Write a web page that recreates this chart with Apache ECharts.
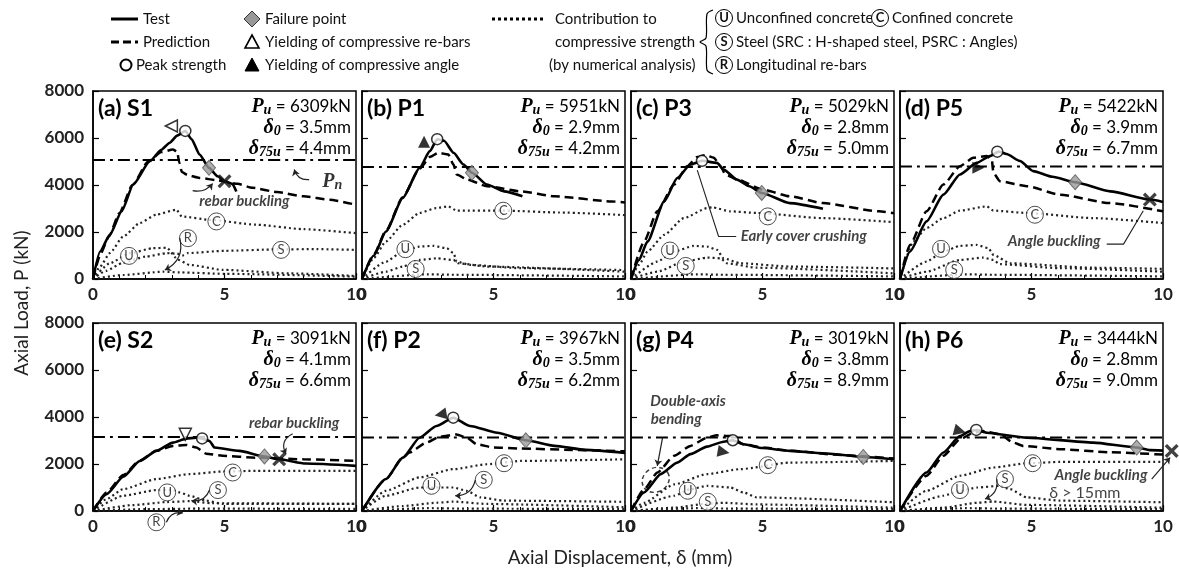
<!DOCTYPE html>
<html>
<head>
<meta charset="utf-8">
<script src="https://cdn.jsdelivr.net/npm/echarts@6/dist/echarts.min.js"></script>
<style>
  html, body { margin: 0; padding: 0; background: #fff; }
  #chart { width: 1179px; height: 575px; }
</style>
</head>
<body>
<div id="chart"></div>
<script>
// ---- data (x: axial displacement mm, y: axial load kN) ----
const panelNames = ['(a) S1', '(b) P1', '(c) P3', '(d) P5', '(e) S2', '(f) P2', '(g) P4', '(h) P6'];
const puValues = ['6309', '5951', '5029', '5422', '3091', '3967', '3019', '3444'];
const d0Values = ['3.5', '2.9', '2.8', '3.9', '4.1', '3.5', '3.8', '2.8'];
const d75Values = ['4.4', '4.2', '5.0', '6.7', '6.6', '6.2', '8.9', '9.0'];
const pnLoads = [5060, 4770, 4770, 4790, 3150, 3130, 3130, 3130];
const xTicks = [0, 5, 10];
const yTicks = [0, 2000, 4000, 6000, 8000];

const testCurves = [
  [[0,0],[0.27,1170],[0.64,1880],[1.09,2880],[1.53,4020],[2.16,5010],[2.6,5500],[2.92,5800],[3.2,6100],[3.51,6300],[3.75,5950],[4.05,5300],[4.41,4730],[4.74,4370],[5.0,4160],[5.3,4050],[5.45,3720]],
  [[0,0],[0.45,1000],[0.91,2020],[1.55,3450],[2.19,4730],[2.58,5440],[2.86,5950],[3.12,5880],[3.48,5370],[3.86,4870],[4.18,4520],[4.75,4020],[5.4,3730],[6.1,3520]],
  [[0,0],[0.3,800],[0.63,1600],[1.26,3300],[1.76,4300],[2.26,4870],[2.7,5030],[3.27,4940],[3.52,4660],[4.03,4230],[4.5,3950],[4.97,3660],[6.04,3230],[7.3,2990]],
  [[0,0],[0.38,1170],[1.01,2450],[1.65,3590],[2.28,4450],[2.91,4940],[3.42,5230],[3.75,5420],[4.05,5320],[4.56,5020],[5.07,4590],[5.8,4350],[6.66,4120],[8.0,3730],[9.5,3380],[10,3280]],
  [[0,0],[0.52,720],[1.15,1455],[1.78,2130],[2.41,2560],[3.04,2910],[3.55,3080],[3.93,3120],[4.15,3080],[4.43,2980],[4.62,2700],[5.57,2560],[6.52,2320],[7.08,2200],[8.09,2020],[10,1920]],
  [[0,0],[0.91,1360],[1.55,2270],[2.19,3120],[2.83,3620],[3.47,3970],[4.11,3620],[5.14,3330],[6.23,3010],[7.32,2770],[8.5,2600],[10,2470]],
  [[0,0],[0.5,790],[1.13,1570],[1.76,2060],[2.26,2420],[2.89,2740],[3.52,2950],[3.87,3010],[4.28,2840],[5.0,2680],[6.04,2560],[7.3,2460],[8.83,2300],[10,2200]],
  [[0,0],[1.01,1640],[1.65,2490],[2.28,3190],[2.66,3400],[2.9,3450],[3.3,3330],[4.82,3120],[7.35,2910],[9.0,2700],[9.5,2590],[10,2570]]
];

const predCurves = [
  [[0,0],[0.3,1100],[0.6,1800],[1.0,2800],[1.5,4000],[2.1,5000],[2.6,5400],[3.04,5510],[3.2,5420],[3.28,4950],[3.38,4550],[3.6,4420],[4.05,4300],[4.74,4200],[5.5,4050],[6.07,3880],[7,3700],[8,3520],[9,3370],[10,3160]],
  [[0,0],[0.45,1050],[0.91,2050],[1.55,3480],[2.19,4700],[2.6,5200],[2.9,5370],[3.28,5300],[3.48,4870],[3.6,4450],[4.0,4230],[4.75,3950],[6.03,3730],[7.32,3520],[9.5,3300],[10,3260]],
  [[0,0],[0.5,1600],[1.0,2880],[1.64,4020],[2.14,4800],[2.52,5190],[2.83,5270],[3.15,5160],[3.4,4800],[3.59,4450],[4.03,4230],[5.03,3800],[6.04,3520],[7.3,3230],[9.43,2880],[10,2800]],
  [[0,0],[0.38,1450],[1.01,2880],[1.65,4020],[2.28,4800],[2.79,5160],[3.3,5230],[3.49,5090],[3.55,4520],[3.8,4160],[4.82,3950],[6.08,3590],[7.98,3230],[10,2880]],
  [[0,0],[0.52,790],[1.15,1530],[1.78,2150],[2.41,2560],[3.04,2770],[3.55,2810],[3.93,2700],[4.3,2440],[4.93,2350],[6.2,2270],[8,2200],[10,2130]],
  [[0,0],[0.91,1360],[1.55,2270],[1.81,2490],[2.45,2910],[2.96,3160],[3.6,3260],[3.98,3120],[4.37,2840],[5.0,2700],[6.03,2660],[8,2600],[10,2540]],
  [[0,0],[0.5,930],[1.01,1640],[1.64,2350],[2.26,2770],[2.89,3120],[3.27,3220],[3.77,3190],[4.28,2840],[5.03,2700],[6.04,2560],[8,2380],[10,2230]],
  [[0,0],[1.01,1500],[1.65,2350],[2.28,3050],[2.79,3330],[3.17,3400],[3.8,3260],[4.31,2910],[4.69,2770],[6.08,2630],[8,2500],[10,2400]]
];

const confCurves = [
  [[0,0],[0.27,530],[0.64,1100],[1.15,1810],[1.78,2380],[2.41,2740],[3.17,2950],[3.38,2660],[4.43,2520],[6.2,2310],[8,2120],[10,1950]],
  [[0,0],[0.45,900],[0.91,1600],[1.55,2310],[2.19,2810],[2.83,3020],[3.28,3090],[3.6,2910],[5.4,2910],[7.5,2830],[10,2720]],
  [[0,0],[0.3,600],[0.63,1170],[1.26,1880],[2.01,2590],[2.9,3020],[3.1,3050],[3.77,2880],[4.78,2810],[7.3,2590],[10,2420]],
  [[0,0],[0.51,1600],[1.01,2170],[1.65,2590],[2.28,2910],[3.3,3090],[3.55,2910],[4.82,2810],[7.35,2590],[10,2380]],
  [[0,0],[0.5,500],[1.15,930],[2.41,1360],[3.67,1570],[4.93,1680],[6.2,1710],[10,1710]],
  [[0,0],[0.91,860],[2.19,1430],[3.47,1780],[4.75,1990],[6.03,2130],[10,2200]],
  [[0,0],[0.5,350],[1.64,1130],[2.89,1570],[4.15,1780],[6.04,2060],[10,2130]],
  [[0,0],[1.01,860],[2.28,1500],[3.55,1850],[4.82,2030],[6.08,2090],[10,2090]]
];

const unconfCurves = [
  [[0,0],[0.64,670],[1.4,1100],[2.28,1310],[2.8,1330],[3.23,820],[3.67,600],[4.93,390],[7.46,240],[10,130]],
  [[0,0],[0.91,740],[1.55,1170],[2.19,1380],[2.7,1410],[3.22,1310],[3.48,1100],[3.6,740],[4.1,600],[6.03,460],[10,380]],
  [[0,0],[1.0,740],[1.64,1170],[2.39,1410],[2.9,1380],[3.27,1240],[3.52,880],[4.15,670],[6.04,530],[10,450]],
  [[0,0],[1.01,740],[1.65,1170],[2.28,1410],[2.91,1450],[3.36,1310],[3.55,1030],[4.18,670],[7.35,480],[10,430]],
  [[0,0],[1.15,650],[2.41,890],[3.0,900],[3.3,790],[3.67,650],[4.3,440],[4.93,300],[10,300]],
  [[0,0],[0.91,650],[2.19,1000],[3.47,1000],[3.98,860],[4.5,580],[5.4,440],[10,390]],
  [[0,0],[1.64,650],[2.26,930],[2.89,1070],[3.77,1000],[4.28,790],[4.78,580],[10,370]],
  [[0,0],[1.65,650],[2.28,860],[2.94,1000],[3.8,1070],[4.18,930],[4.82,580],[6.08,440],[10,370]]
];

const steelCurves = [
  [[0,0],[0.5,350],[1.15,700],[2.0,950],[2.8,1100],[3.2,1080],[3.4,1000],[3.6,1100],[5,1200],[7,1260],[8.5,1270],[10,1240]],
  [[0,0],[0.91,310],[1.55,530],[2.19,810],[2.83,880],[3.48,810],[3.66,670],[4.75,530],[10,310]],
  [[0,0],[1.0,310],[2.01,740],[2.9,910],[3.4,880],[3.65,670],[4.78,480],[10,240]],
  [[0,0],[1.01,310],[2.28,810],[3.17,910],[3.55,810],[3.8,630],[6.08,460],[10,310]],
  [[0,0],[1.5,250],[2.8,380],[3.7,420],[4.5,330],[10,300]],
  [[0,0],[1.55,210],[2.83,350],[3.47,400],[4.75,300],[10,160]],
  [[0,0],[1.64,140],[2.89,310],[3.52,350],[4.78,280],[10,140]],
  [[0,0],[1.65,140],[2.94,350],[3.55,400],[4.82,260],[10,140]]
];

const rebarCurves = [
  [[0,0],[1.15,170],[2.66,310],[3.3,280],[5,220],[10,100]],
  [[0,0],[2.5,200],[3.5,180],[10,110]],
  [[0,0],[2.5,200],[3.5,180],[10,110]],
  [[0,0],[2.5,200],[3.5,180],[10,110]],
  [[0,0],[2,80],[4,100],[10,90]],
  [[0,0],[2.5,120],[4,100],[10,80]],
  [[0,0],[2.5,120],[4,100],[10,80]],
  [[0,0],[2.5,120],[4,100],[10,80]]
];

const peakPoints = [[3.51,6300],[2.86,5950],[2.7,5030],[3.7,5420],[4.15,3090],[3.47,3970],[3.87,3010],[2.9,3450]];
const failurePoints = [[4.41,4730],[4.18,4520],[4.97,3660],[6.66,4120],[6.52,2320],[6.23,3010],[8.83,2300],[9.0,2700]];
const yieldPoints = [[2.98,6510],[2.36,5840],null,[2.98,4730],[3.51,3264],[2.99,4110],[3.52,2514],[2.28,3404]];
const bucklingPoints = [[5.0,4160],null,null,[9.5,3380],[7.08,2200],null,null,[10.33,2557]];

// circled component tags and notes (annotations)
const circleLabels = [
  [[4.69,2450,'C'],[1.37,983,'U'],[3.61,1738,'R'],[7.15,1239,'S']],
  [[5.37,2906,'C'],[1.65,1268,'U'],[2.04,427,'S']],
  [[5.2,2664,'C'],[1.48,1211,'U'],[2.08,556,'S']],
  [[5.13,2735,'C'],[1.56,1282,'U'],[2.06,385,'S']],
  [[5.31,1638,'C'],[2.82,791,'U'],[4.75,890,'S'],[2.41,-480,'R']],
  [[5.4,2034,'C'],[2.64,1073,'U'],[4.63,1328,'S']],
  [[5.2,1949,'C'],[2.16,862,'U'],[2.92,395,'S']],
  [[5.04,2034,'C'],[2.28,890,'U'],[3.99,1356,'S']]
];
const noteTexts = [
  [[5.76,3300,'rebar buckling']],
  [],
  [[6.57,1808,'Early cover crushing']],
  [[5.86,1594,'Angle buckling']],
  [[7.65,3758,'rebar buckling']],
  [],
  [[2.17,4674,'Double-axis'],[1.72,3898,'bending']],
  [[7.64,1538,'Angle buckling']]
];
const plainNotes = [[], [], [], [], [], [], [], [[7.03,792,'δ > 15mm']]];
const pnTag = [9.1, 4150];
const bendingZone = [0.94, 1326];
const arrowPaths = [
  [{c: [[3.79,3760],[4.55,4060]], k: -0.3}, {c: [[8.22,4230],[7.65,4660]], k: 0.4}, {c: [[3.3,1740],[2.73,385]], k: 0.4}],
  [],
  [{c: [[4.0,1808],[3.33,1808],[2.52,4630]]}],
  [{c: [[7.86,1483],[8.5,1483],[9.25,2906]]}],
  [{c: [[7.59,3290],[7.34,2410]], k: -0.5}, {c: [[4.43,890],[3.74,440]], k: 0.4}, {c: [[2.79,-480],[3.42,-85]], k: 0.4}],
  [{c: [[4.31,1326],[3.54,648]], k: 0.4}],
  [{c: [[1.2,3122],[1.0,1921]]}],
  [{c: [[3.68,1356],[3.23,508]], k: 0.4}, {c: [[9.57,1356],[10.27,2275]]}]
];

// ---- layout / style ----
const FONT = 'Lato, "Open Sans", sans-serif';
const SERIF = '"Liberation Serif", "DejaVu Serif", serif';
const LEFTS = [93, 362, 631, 900];
const TOPS = [91, 323];
const PW = 263, PH = 188;
const openYield = [true, false, false, false, true, false, false, false];
const yieldRotate = [90, 0, 0, -90, 180, 100, -100, -105];
const CROSS = 'path://M2,0 L6,4 L10,0 L12,2 L8,6 L12,10 L10,12 L6,8 L2,12 L0,10 L4,6 L0,2 Z';

const chart = echarts.init(document.getElementById('chart'));

const grids = [], xAxes = [], yAxes = [], series = [], graphic = [];

function curve(i, data, lineStyle, z) {
  return {
    type: 'line', xAxisIndex: i, yAxisIndex: i, data: data, symbol: 'none',
    smooth: 0.2, smoothMonotone: 'x', lineStyle: lineStyle, z: z,
    silent: true, animation: false
  };
}

const subRich = {
  p: { fontFamily: SERIF, fontStyle: 'italic', fontWeight: 'bold', fontSize: 20, lineHeight: 21, color: '#000' },
  s: { fontFamily: SERIF, fontStyle: 'italic', fontWeight: 'bold', fontSize: 14, lineHeight: 21, padding: [8, 0, 0, 0], color: '#000' },
  t: { fontFamily: FONT, fontSize: 17, lineHeight: 21, color: '#000' }
};

for (let i = 0; i < 8; i++) {
  const col = i % 4, row = i < 4 ? 0 : 1;
  const left = LEFTS[col], top = TOPS[row];

  grids.push({ left: left, top: top, width: PW, height: PH, show: true,
    borderColor: '#000', borderWidth: 1.5, outerBoundsMode: 'none' });

  xAxes.push({
    gridIndex: i, type: 'value', min: xTicks[0], max: xTicks[2], interval: xTicks[1] - xTicks[0],
    axisLine: { show: true, lineStyle: { color: '#000', width: 1.5 } },
    axisTick: { show: true, inside: true, length: 6, lineStyle: { color: '#000', width: 1.2 } },
    minorTick: { show: true, splitNumber: 5, length: 4, lineStyle: { color: '#000', width: 1 } },
    splitLine: { show: false },
    axisLabel: { fontFamily: FONT, fontWeight: 'bold', fontSize: 17, color: '#222', margin: 7 }
  });
  yAxes.push({
    gridIndex: i, type: 'value', min: yTicks[0], max: yTicks[4], interval: yTicks[1] - yTicks[0],
    axisLine: { show: true, lineStyle: { color: '#000', width: 1.5 } },
    axisTick: { show: true, inside: true, length: 6, lineStyle: { color: '#000', width: 1.2 } },
    splitLine: { show: false },
    axisLabel: { show: col === 0, formatter: v => String(v), fontFamily: FONT, fontWeight: 'bold',
      fontSize: 17, color: '#222', margin: 9 }
  });

  // nominal strength line
  series.push(curve(i, [[0, pnLoads[i]], [10, pnLoads[i]]],
    { color: '#000', width: 2, type: [12, 5, 3, 5] }, 2));

  // numerical contributions (dotted)
  const dot = { color: '#222', width: 2.2, type: [2, 3] };
  series.push(curve(i, confCurves[i], dot, 3));
  series.push(curve(i, unconfCurves[i], dot, 3));
  series.push(curve(i, steelCurves[i], dot, 3));
  series.push(curve(i, rebarCurves[i], dot, 3));

  // prediction and test
  series.push(curve(i, predCurves[i], { color: '#000', width: 2.5, type: [9, 5] }, 4));
  series.push(curve(i, testCurves[i], { color: '#000', width: 2.6 }, 5));

  // event markers
  const marks = [
    { value: failurePoints[i], symbol: 'diamond', symbolSize: [13, 15],
      itemStyle: { color: '#9a9a9a', borderColor: '#555', borderWidth: 1 } },
    { value: peakPoints[i], symbol: 'circle', symbolSize: 11,
      itemStyle: { color: '#fff', borderColor: '#000', borderWidth: 1.5 } }
  ];
  if (yieldPoints[i]) {
    marks.push({ value: yieldPoints[i], symbol: 'triangle', symbolSize: 12, symbolRotate: yieldRotate[i],
      itemStyle: openYield[i] ? { color: '#fff', borderColor: '#000', borderWidth: 1.5 } : { color: '#000' } });
  }
  if (bucklingPoints[i]) {
    marks.push({ value: bucklingPoints[i], symbol: CROSS, symbolSize: 14,
      itemStyle: { color: '#111' } });
  }
  series.push({ type: 'scatter', xAxisIndex: i, yAxisIndex: i, data: marks, clip: false,
    z: 8, silent: true, animation: false });

  // circled component tags
  series.push({
    type: 'scatter', xAxisIndex: i, yAxisIndex: i, clip: false, z: 7, silent: true, animation: false,
    data: circleLabels[i], symbol: 'circle', symbolSize: 17,
    itemStyle: { color: '#fff', borderColor: '#222', borderWidth: 1 },
    label: { show: true, position: 'inside', formatter: p => p.value[2],
      fontFamily: FONT, fontSize: 13, color: '#111' }
  });

  // notes
  series.push({
    type: 'scatter', xAxisIndex: i, yAxisIndex: i, clip: false, z: 9, silent: true, animation: false,
    data: noteTexts[i], symbolSize: 1, itemStyle: { color: 'rgba(0,0,0,0)' },
    label: { show: true, position: 'inside', formatter: p => p.value[2],
      fontFamily: FONT, fontSize: 15, fontWeight: 'bold', fontStyle: 'italic', color: '#111' }
  });
  if (plainNotes[i].length) {
    series.push({
      type: 'scatter', xAxisIndex: i, yAxisIndex: i, clip: false, z: 9, silent: true, animation: false,
      data: plainNotes[i], symbolSize: 1, itemStyle: { color: 'rgba(0,0,0,0)' },
      label: { show: true, position: 'inside', formatter: p => p.value[2],
        fontFamily: FONT, fontSize: 16, color: '#111' }
    });
  }

  // arrows
  const curved = arrowPaths[i].filter(a => a.c.length === 2)
    .map(a => ({ coords: a.c, lineStyle: { curveness: a.k || 0 } }));
  const bent = arrowPaths[i].filter(a => a.c.length > 2).map(a => ({ coords: a.c }));
  if (curved.length) {
    series.push({ type: 'lines', coordinateSystem: 'cartesian2d', xAxisIndex: i, yAxisIndex: i,
      data: curved, clip: false, symbol: ['none', 'arrow'], symbolSize: 6, z: 9, silent: true,
      animation: false, lineStyle: { color: '#222', width: 1.2, opacity: 1 } });
  }
  if (bent.length) {
    series.push({ type: 'lines', coordinateSystem: 'cartesian2d', xAxisIndex: i, yAxisIndex: i,
      data: bent, polyline: true, clip: false, symbol: ['none', 'arrow'], symbolSize: 6, z: 9,
      silent: true, animation: false, lineStyle: { color: '#222', width: 1.1, opacity: 1 } });
  }

  // panel title and test indices
  graphic.push({ type: 'text', x: left + 5, y: top + 6, z: 20,
    style: { text: panelNames[i], fontFamily: FONT, fontWeight: 'bold', fontSize: 23, fill: '#000' } });
  graphic.push({ type: 'text', x: left + PW - 5, y: top + 5, z: 20,
    style: {
      text: '{p|P}{s|u}{t| = ' + puValues[i] + 'kN}\n{p|δ}{s|0}{t| = ' + d0Values[i] + 'mm}\n{p|δ}{s|75u}{t| = ' + d75Values[i] + 'mm}',
      align: 'right', verticalAlign: 'top', fill: '#000', rich: subRich
    } });
}

// Pn tag and bending zone in panels (a) and (g)
series.push({
  type: 'scatter', xAxisIndex: 0, yAxisIndex: 0, clip: false, z: 9, silent: true, animation: false,
  data: [pnTag], symbolSize: 1, itemStyle: { color: 'rgba(0,0,0,0)' },
  label: { show: true, position: 'inside', formatter: '{p|P}{s|n}', color: '#000', rich: subRich }
});
series.push({
  type: 'scatter', xAxisIndex: 6, yAxisIndex: 6, clip: false, z: 9, silent: true, animation: false,
  data: [bendingZone], symbol: 'circle', symbolSize: [28, 24], symbolRotate: 30,
  itemStyle: { color: 'rgba(0,0,0,0)', borderColor: '#111', borderWidth: 1.5, borderType: [4, 3] }
});

// ---- legend (drawn as graphics) ----
const LT = { fontFamily: FONT, fontSize: 15, fill: '#111', verticalAlign: 'middle' };
const rows = [19, 42, 65];
graphic.push(
  { type: 'line', shape: { x1: 111, y1: rows[0], x2: 138, y2: rows[0] }, style: { stroke: '#000', lineWidth: 3 } },
  { type: 'text', x: 143, y: rows[0], style: Object.assign({ text: 'Test' }, LT) },
  { type: 'line', shape: { x1: 111, y1: rows[1], x2: 138, y2: rows[1] }, style: { stroke: '#000', lineWidth: 3, lineDash: [8, 4] } },
  { type: 'text', x: 143, y: rows[1], style: Object.assign({ text: 'Prediction' }, LT) },
  { type: 'circle', shape: { cx: 126, cy: rows[2], r: 5.5 }, style: { fill: '#fff', stroke: '#000', lineWidth: 2 } },
  { type: 'text', x: 136, y: rows[2], style: Object.assign({ text: 'Peak strength' }, LT) },
  { type: 'polygon', shape: { points: [[252, rows[0] - 8], [260, rows[0]], [252, rows[0] + 8], [244, rows[0]]] },
    style: { fill: '#999', stroke: '#333', lineWidth: 1 } },
  { type: 'text', x: 265, y: rows[0], style: Object.assign({ text: 'Failure point' }, LT) },
  { type: 'polygon', shape: { points: [[252, rows[1] - 7], [259, rows[1] + 6], [245, rows[1] + 6]] },
    style: { fill: '#fff', stroke: '#000', lineWidth: 1.6 } },
  { type: 'text', x: 265, y: rows[1], style: Object.assign({ text: 'Yielding of compressive re-bars' }, LT) },
  { type: 'polygon', shape: { points: [[252, rows[2] - 7], [259, rows[2] + 6], [245, rows[2] + 6]] },
    style: { fill: '#000', stroke: '#000', lineWidth: 1 } },
  { type: 'text', x: 265, y: rows[2], style: Object.assign({ text: 'Yielding of compressive angle' }, LT) },
  { type: 'line', shape: { x1: 492, y1: rows[0], x2: 546, y2: rows[0] }, style: { stroke: '#000', lineWidth: 3, lineDash: [3, 3] } },
  { type: 'text', x: 555, y: rows[0], style: Object.assign({ text: 'Contribution to' }, LT) },
  { type: 'text', x: 555, y: rows[1], style: Object.assign({ text: 'compressive strength' }, LT) },
  { type: 'text', x: 549, y: rows[2], style: Object.assign({ text: '(by numerical analysis)' }, LT) },
  { type: 'polyline', shape: { points: [[713, 10], [707, 14], [706, 38], [700, 42], [706, 46], [707, 70], [713, 74]], smooth: 0.3 },
    style: { stroke: '#000', lineWidth: 1.2, fill: null } }
);
const tagRows = [
  [724, rows[0] - 1, 'U', 'Unconfined concrete'],
  [880, rows[0] - 1, 'C', 'Confined concrete'],
  [724, rows[1], 'S', 'Steel (SRC : H-shaped steel, PSRC : Angles)'],
  [724, rows[2], 'R', 'Longitudinal re-bars']
];
tagRows.forEach(t => {
  graphic.push(
    { type: 'circle', shape: { cx: t[0], cy: t[1], r: 8.5 }, style: { fill: '#fff', stroke: '#000', lineWidth: 1 } },
    { type: 'text', x: t[0], y: t[1], style: { text: t[2], fontFamily: FONT, fontWeight: 'bold', fontSize: 13,
      fill: '#111', align: 'center', verticalAlign: 'middle' } },
    { type: 'text', x: t[0] + 12, y: t[1], style: Object.assign({ text: t[3] }, LT) }
  );
});

// axis titles
graphic.push(
  { type: 'text', x: 22, y: 303, rotation: Math.PI / 2,
    style: { text: 'Axial Load, P (kN)', fontFamily: FONT, fontSize: 19, fill: '#222', align: 'center', verticalAlign: 'middle' } },
  { type: 'text', x: 620, y: 558,
    style: { text: 'Axial Displacement, δ (mm)', fontFamily: FONT, fontSize: 19, fill: '#222', align: 'center', verticalAlign: 'middle' } }
);

chart.setOption({
  animation: false,
  backgroundColor: '#fff',
  grid: grids,
  xAxis: xAxes,
  yAxis: yAxes,
  series: series,
  graphic: graphic
});
</script>
</body>
</html>
